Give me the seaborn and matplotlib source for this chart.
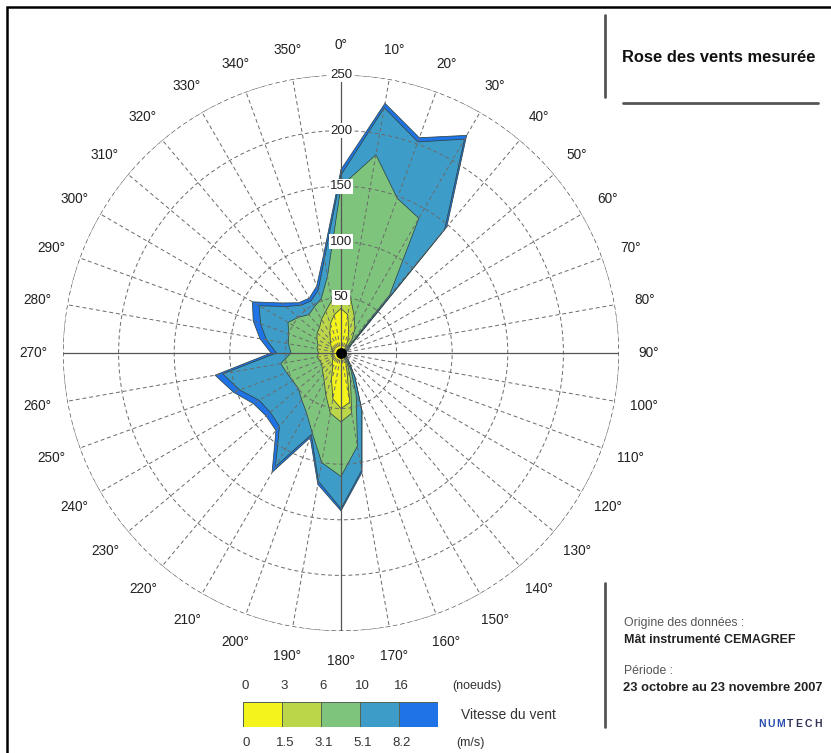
import numpy as np
import matplotlib.pyplot as plt
from matplotlib.colors import ListedColormap
from matplotlib.patches import Rectangle
import seaborn as sns

# wind directions (deg) and frequency of each speed class per direction
directions = np.arange(0, 360, 10)
cls_0_15 = [40, 35, 20, 12, 6, 3, 2, 2, 2, 2, 2, 2, 2, 3, 4, 8, 15, 45,
            50, 42, 25, 15, 12, 10, 8, 8, 8, 7, 8, 8, 10, 12, 15, 20, 28, 35]
cls_15_31 = [15, 15, 15, 13, 9, 3, 2, 1, 1, 1, 1, 1, 1, 1, 2, 4, 10, 10,
             12, 13, 15, 15, 13, 12, 12, 12, 14, 13, 14, 14, 15, 16, 15, 15, 12, 13]
cls_31_51 = [95, 131, 113, 115, 53, 3, 2, 2, 1, 1, 1, 1, 2, 2, 3, 6, 15, 30,
             49, 45, 36, 32, 30, 28, 30, 32, 33, 25, 26, 28, 30, 22, 15, 13, 12, 22]
cls_51_82 = [10, 43, 54, 82, 77, 3, 2, 1, 1, 1, 1, 1, 1, 2, 3, 7, 15, 22,
             29, 17, 2, 56, 31, 33, 35, 45, 53, 13, 20, 27, 30, 15, 11, 6, 8, 16]
cls_82_up = [5, 4, 4, 4, 3, 1, 0, 0, 0, 0, 0, 0, 0, 0, 0, 0, 0, 2,
             2, 3, 3, 6, 5, 5, 6, 6, 7, 5, 6, 7, 7, 5, 3, 3, 4, 4]

class_colors = ['#f4f41c', '#bcd64a', '#7fc47c', '#3e9dc8', '#1f73e6']
knots_ticks = ['0', '3', '6', '10', '16']
ms_ticks = ['0', '1.5', '3.1', '5.1', '8.2']
r_ticks = [50, 100, 150, 200, 250]

sns.set_theme(style='white')
plt.rcParams['font.family'] = ['Liberation Sans', 'DejaVu Sans']

W, H = 831, 753
fig = plt.figure(figsize=(W / 100, H / 100), dpi=100)


def fx(px):
    return px / W


def fy(py):
    return 1 - py / H


# polar wind rose
ax = fig.add_axes([fx(63), fy(631), 556 / W, 556 / H], projection='polar')
ax.set_theta_zero_location('N')
ax.set_theta_direction(-1)
ax.set_ylim(0, 250)
ax.set_axisbelow(False)

cum = np.cumsum(np.array([cls_0_15, cls_15_31, cls_31_51, cls_51_82, cls_82_up]), axis=0)
theta = np.deg2rad(np.append(directions, directions[0]))
for i in range(4, -1, -1):
    r = np.append(cum[i], cum[i][0])
    ax.fill(theta, r, color=class_colors[i], lw=0, zorder=1)
    sns.lineplot(x=theta, y=r, ax=ax, sort=False, estimator=None,
                 color='#2f4545', lw=0.55, zorder=2)

ax.set_xticks(np.deg2rad(directions))
ax.set_xticklabels([])
ax.set_yticks(r_ticks)
ax.set_yticklabels([])
ax.set_xlabel('')
ax.set_ylabel('')
ax.grid(True, color='#6a6a6a', ls=(0, (4, 3)), lw=0.7, zorder=3)
ax.spines['polar'].set_visible(False)
ring = np.linspace(0, 2 * np.pi, 361)
ax.plot(ring, np.full_like(ring, 250), color='#6a6a6a', ls=(0, (4, 3)), lw=0.8)
for d in [0, 90, 180, 270]:
    ax.plot([np.deg2rad(d)] * 2, [0, 250], color='#555555', lw=0.9, zorder=3)
ax.scatter([0], [0], s=45, color='black', zorder=6)

for d in directions:
    ax.text(np.deg2rad(d), 277, f'{d}°', ha='center', va='center',
            fontsize=9.8, color='#222222')
for rt in r_ticks:
    ax.text(0, rt, str(rt), ha='center', va='center', fontsize=9.5,
            color='#222222', zorder=7,
            bbox=dict(boxstyle='square,pad=0.1', fc='white', ec='none'))

# speed class legend
leg = fig.add_axes([fx(243), fy(727), 195 / W, 25 / H])
sns.heatmap(np.arange(5).reshape(1, 5), cmap=ListedColormap(class_colors),
            cbar=False, ax=leg, linewidths=0.6, linecolor='#556655',
            xticklabels=False, yticklabels=False)
for k, x in enumerate([243, 282, 321, 360, 399]):
    fig.text(fx(x + 2), fy(686), knots_ticks[k], ha='center', va='center',
             fontsize=9.5, color='#333333')
    fig.text(fx(x + 3), fy(743), ms_ticks[k], ha='center', va='center',
             fontsize=9.5, color='#333333')
fig.text(fx(452), fy(686), '(noeuds)', ha='left', va='center', fontsize=9, color='#333333')
fig.text(fx(456), fy(743), '(m/s)', ha='left', va='center', fontsize=9, color='#333333')
fig.text(fx(461), fy(715), 'Vitesse du vent', ha='left', va='center', fontsize=10, color='#333333')

# right hand panel
line_kw = dict(color='#555555', lw=2, transform=fig.transFigure)
fig.add_artist(plt.Line2D([fx(605), fx(605)], [fy(15), fy(97)], **line_kw))
fig.add_artist(plt.Line2D([fx(623), fx(818)], [fy(103), fy(103)], **line_kw))
fig.add_artist(plt.Line2D([fx(605), fx(605)], [fy(583), fy(727)], **line_kw))
fig.text(fx(622), fy(57), 'Rose des vents mesurée', ha='left', va='center',
         fontsize=11.9, fontweight='bold', color='#111111')
fig.text(fx(624), fy(623), 'Origine des données :', ha='left', va='center',
         fontsize=8.8, color='#555555')
fig.text(fx(624), fy(640), 'Mât instrumenté CEMAGREF', ha='left', va='center',
         fontsize=9, fontweight='bold', color='#222222')
fig.text(fx(624), fy(671), 'Période :', ha='left', va='center',
         fontsize=8.8, color='#555555')
fig.text(fx(623), fy(688), '23 octobre au 23 novembre 2007', ha='left', va='center',
         fontsize=9.3, fontweight='bold', color='#222222')
# logo, letters spread out a bit
for k, ch in enumerate('NUMTECH'):
    fig.text(fx(762 + 9.3 * k), fy(724), ch, ha='center', va='center', fontsize=7.5,
             fontweight='bold', color='#2a4fb0' if k < 3 else '#333355')

# outer frame
fig.add_artist(Rectangle((fx(7), -0.2), 2, fy(7) + 0.2, fill=False, ec='black',
                         lw=1.8, transform=fig.transFigure, clip_on=False))

fig.savefig('out.png', dpi=100)
